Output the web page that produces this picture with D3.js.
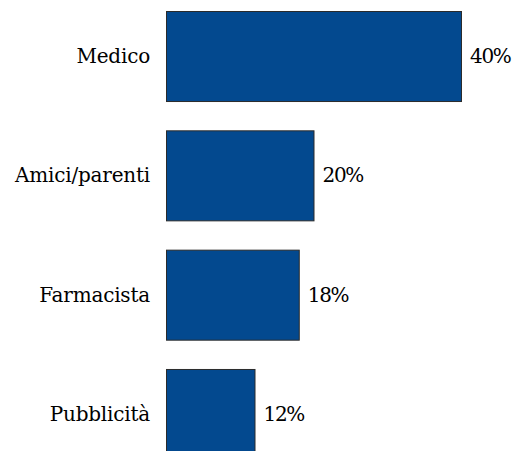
<!DOCTYPE html>
<html>
<head>
<meta charset="utf-8">
<script src="https://cdn.jsdelivr.net/npm/d3@7"></script>
<style>
  html, body { margin: 0; padding: 0; background: #fff; }
  svg { display: block; }
  text { font-family: "DejaVu Serif", serif; fill: #000; }
</style>
</head>
<body>
<script>
// Fonti di informazione
const categories = ["Medico", "Amici/parenti", "Farmacista", "Pubblicità"];
const values = [40, 20, 18, 12];
const valueLabels = ["40%", "20%", "18%", "12%"];

const width = 513, height = 451;
const svg = d3.select("body").append("svg")
  .attr("width", width).attr("height", height);

const x = d3.scaleLinear().domain([0, 40]).range([166, 461]);
const y = d3.scaleBand().domain(categories)
  .range([11, 459]).paddingInner(0.2456).paddingOuter(0);

const data = categories.map((c, i) => ({ c, v: values[i], label: valueLabels[i] }));

svg.selectAll("rect.bar").data(data).join("rect")
  .attr("class", "bar")
  .attr("x", x(0) + 0.5)
  .attr("y", d => y(d.c) + 0.5)
  .attr("width", d => x(d.v) - x(0))
  .attr("height", y.bandwidth())
  .attr("fill", "#03498f")
  .attr("stroke", "#2b2b2b")
  .attr("stroke-width", 1);

svg.selectAll("text.cat").data(data).join("text")
  .attr("class", "cat")
  .attr("x", x(0) - 16)
  .attr("y", d => y(d.c) + y.bandwidth() / 2)
  .attr("dy", "0.35em")
  .attr("text-anchor", "end")
  .attr("font-size", 20)
  .attr("letter-spacing", -0.2)
  .text(d => d.c);

svg.selectAll("text.val").data(data).join("text")
  .attr("class", "val")
  .attr("x", d => x(d.v) + 9)
  .attr("y", d => y(d.c) + y.bandwidth() / 2)
  .attr("dy", "0.35em")
  .attr("font-size", 20)
  .attr("letter-spacing", -1.3)
  .text(d => d.label);
</script>
</body>
</html>
